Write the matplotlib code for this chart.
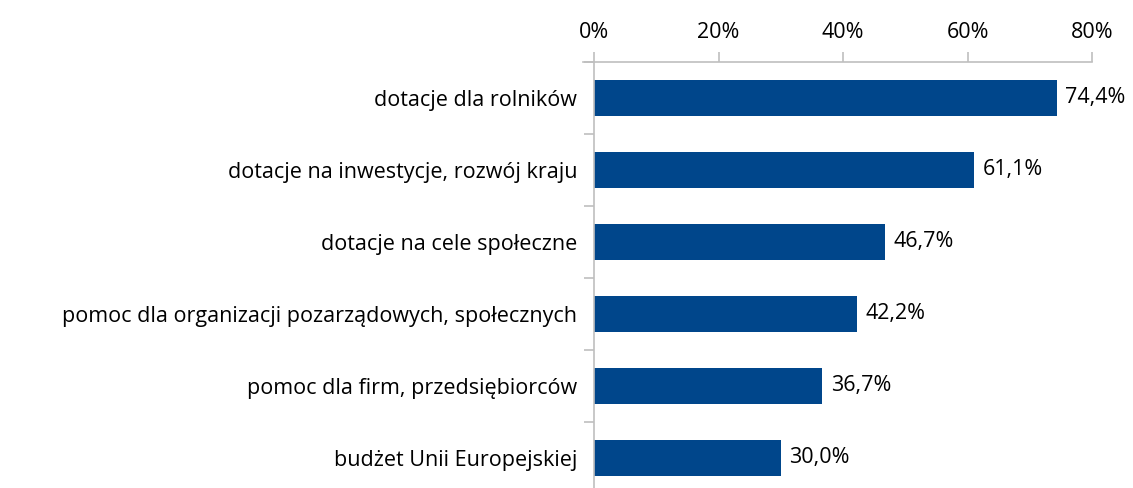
import matplotlib
matplotlib.use("Agg")
from matplotlib import pyplot as plt
from matplotlib.ticker import FixedLocator
import numpy as np

categories = ["dotacje dla rolników",
              "dotacje na inwestycje, rozwój kraju",
              "dotacje na cele społeczne",
              "pomoc dla organizacji pozarządowych, społecznych",
              "pomoc dla firm, przedsiębiorców",
              "budżet Unii Europejskiej"]
values = [74.4, 61.1, 46.7, 42.2, 36.7, 30.0]
x_ticks = [0, 20, 40, 60, 80]

plt.rcParams['font.family'] = ['Open Sans', 'DejaVu Sans']
fs = 15.5

W, H = 1133, 488
fig = plt.figure(figsize=(W / 100, H / 100), dpi=100)
left, right = 594 / W, 1092 / W
top, bottom = 1 - 62 / H, 1 - 494 / H
ax = fig.add_axes([left, bottom, right - left, top - bottom])

grey = "#BFBFBF"
y = np.arange(len(categories))
ax.barh(y, values, height=0.49, color="#00468B")
ax.set_xlim(0, 80)
ax.set_ylim(len(categories) - 0.5, -0.5)

for yi, v in zip(y, values):
    ax.annotate(f"{v:.1f}%".replace(".", ","), (v, yi), xytext=(6, 0),
                textcoords="offset points", va="center", ha="left",
                fontsize=fs, color="black")

# axes styling
for s in ["bottom", "right"]:
    ax.spines[s].set_visible(False)
ax.spines["top"].set_color(grey)
ax.spines["left"].set_color(grey)
ax.spines["top"].set_linewidth(1.2)
ax.spines["left"].set_linewidth(1.2)
# small stub of the top axis left of zero
ax.plot([-1.7, 0], [-0.5, -0.5], color=grey, lw=1.2, clip_on=False)

ax.xaxis.tick_top()
ax.set_xticks(x_ticks)
ax.set_xticklabels([f"{t}%" for t in x_ticks])
ax.tick_params(axis="x", which="major", length=7.5, width=1.2, color=grey, pad=6,
               labelsize=fs)

ax.set_yticks(y)
ax.set_yticklabels(categories)
ax.tick_params(axis="y", which="major", length=0, pad=12, labelsize=fs)
ax.yaxis.set_minor_locator(FixedLocator(np.arange(-0.5, len(categories), 1)))
ax.tick_params(axis="y", which="minor", length=7.5, width=1.2, color=grey)

fig.savefig("out.png", dpi=100)
